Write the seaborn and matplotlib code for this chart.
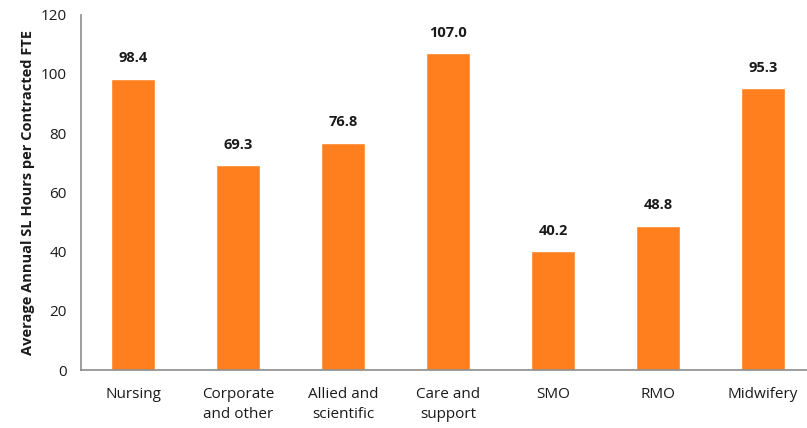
import pandas as pd
import matplotlib
matplotlib.use("Agg")
import matplotlib.pyplot as plt
import seaborn as sns

sns.set_style("white")
plt.rcParams["font.family"] = ["Open Sans", "DejaVu Sans"]

# data
categories = ["Nursing", "Corporate\nand other", "Allied and\nscientific", "Care and\nsupport",
              "SMO", "RMO", "Midwifery"]
sl_hours = [98.4, 69.3, 76.8, 107.0, 40.2, 48.8, 95.3]

df = pd.DataFrame({"group": categories, "hours": sl_hours})

fig = plt.figure(figsize=(8.07, 4.28), dpi=100)
ax = fig.add_axes([0.0998, 0.1355, 0.9002, 0.83])

sns.barplot(data=df, x="group", y="hours", color="#FF7F1E", saturation=1,
            width=0.42, ax=ax)

for i, v in enumerate(sl_hours):
    ax.text(i, v + 4.5, f"{v:.1f}", ha="center", va="bottom", fontsize=10.5,
            fontweight="bold", color="#1a1a1a")

ax.set_ylim(0, 120)
ax.set_xlim(-0.5, 6.42)
ax.set_yticks(range(0, 121, 20))
ax.set_xlabel("")
ax.set_ylabel("Average Annual SL Hours per Contracted FTE", fontsize=10.5,
              fontweight="bold", color="#1a1a1a")
ax.tick_params(axis="both", length=0, labelsize=11, colors="#1a1a1a")
ax.tick_params(axis="x", pad=12)
ax.tick_params(axis="y", pad=10)
for lbl in ax.get_xticklabels():
    lbl.set_linespacing(1.45)

sns.despine(ax=ax, top=True, right=True)
for side in ["left", "bottom"]:
    ax.spines[side].set_color("#8c8c8c")
    ax.spines[side].set_linewidth(1.2)

fig.savefig("out.png", dpi=100)
